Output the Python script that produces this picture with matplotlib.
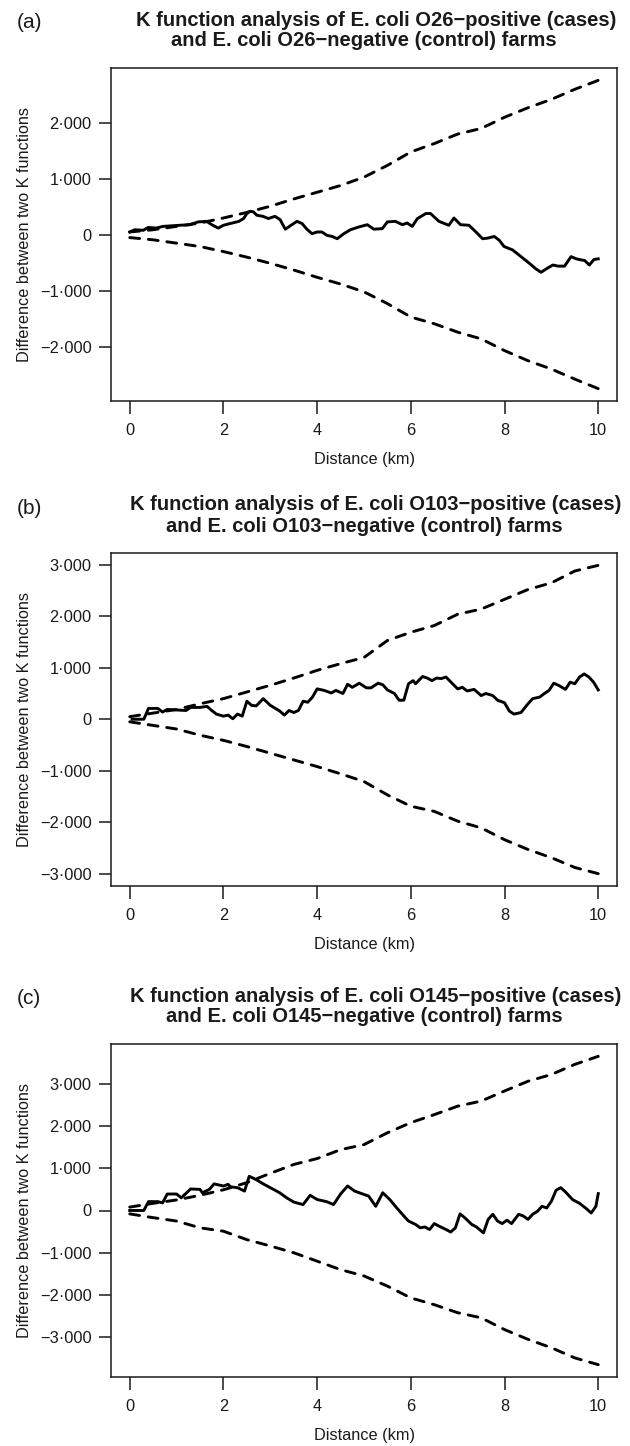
import numpy as np
import matplotlib
matplotlib.use('Agg')
import matplotlib.pyplot as plt

plt.rcParams['font.family'] = ['Liberation Sans', 'DejaVu Sans']

ink = '#1a1a1a'

# envelope grid (km), shared by all three panels
env_x = [0, 0.5, 1, 1.5, 2, 2.5, 3, 3.5, 4, 4.5, 5, 5.5, 6, 6.5, 7, 7.5, 8, 8.5, 9, 9.5, 10]

# (a) O26
a_hi = [0.05, 0.09, 0.15, 0.21, 0.30, 0.40, 0.51, 0.64, 0.76, 0.88, 1.03, 1.24, 1.48, 1.63, 1.80, 1.90, 2.10, 2.27, 2.42, 2.60, 2.76]
a_lo = [-0.05, -0.09, -0.15, -0.21, -0.30, -0.40, -0.51, -0.63, -0.76, -0.88, -1.02, -1.23, -1.47, -1.59, -1.74, -1.86, -2.07, -2.25, -2.40, -2.58, -2.75]
a_x = [0, 0.11, 0.29, 0.39, 0.57, 0.71, 0.89, 1.07, 1.28, 1.46, 1.64, 1.75, 1.89, 2.0, 2.14, 2.33, 2.43, 2.5, 2.57, 2.64,
       2.71, 2.84, 2.96, 3.1, 3.21, 3.32, 3.46, 3.57, 3.68, 3.78, 3.89, 4.0, 4.1, 4.21, 4.32, 4.43, 4.57, 4.71, 4.89, 5.07,
       5.21, 5.39, 5.5, 5.67, 5.82, 5.92, 6.03, 6.14, 6.32, 6.42, 6.6, 6.81, 6.92, 7.06, 7.24, 7.39, 7.53, 7.64, 7.78, 7.89,
       7.99, 8.17, 8.35, 8.53, 8.67, 8.78, 8.89, 9.03, 9.14, 9.28, 9.42, 9.53, 9.64, 9.71, 9.81, 9.91, 10.0]
a_k = [0.05, 0.09, 0.08, 0.13, 0.12, 0.15, 0.16, 0.17, 0.18, 0.23, 0.24, 0.18, 0.12, 0.17, 0.20, 0.24, 0.29, 0.38, 0.42, 0.41,
       0.35, 0.33, 0.29, 0.33, 0.27, 0.10, 0.18, 0.24, 0.20, 0.10, 0.02, 0.05, 0.05, -0.01, -0.03, -0.07, 0.02, 0.09, 0.14, 0.18,
       0.10, 0.11, 0.23, 0.24, 0.18, 0.21, 0.15, 0.29, 0.38, 0.38, 0.24, 0.17, 0.30, 0.18, 0.17, 0.05, -0.07, -0.06, -0.03, -0.10,
       -0.21, -0.27, -0.39, -0.51, -0.61, -0.67, -0.61, -0.54, -0.56, -0.56, -0.39, -0.43, -0.45, -0.46, -0.54, -0.44, -0.43]

# (b) O103
b_hi = [0.05, 0.12, 0.19, 0.30, 0.40, 0.53, 0.66, 0.80, 0.95, 1.08, 1.20, 1.53, 1.69, 1.82, 2.04, 2.14, 2.33, 2.52, 2.65, 2.88, 2.99]
b_lo = [-0.05, -0.12, -0.19, -0.31, -0.41, -0.53, -0.66, -0.79, -0.92, -1.06, -1.21, -1.47, -1.69, -1.79, -1.98, -2.11, -2.34, -2.53, -2.69, -2.88, -3.00]
b_x = [0.05, 0.3, 0.4, 0.6, 0.7, 0.8, 1.2, 1.3, 1.5, 1.65, 1.75, 1.85, 2.0, 2.1, 2.2, 2.3, 2.4, 2.5, 2.6, 2.7,
       2.85, 3.0, 3.2, 3.3, 3.4, 3.5, 3.6, 3.7, 3.8, 3.9, 4.0, 4.15, 4.3, 4.4, 4.55, 4.65, 4.75, 4.9, 5.05, 5.15,
       5.3, 5.4, 5.5, 5.65, 5.75, 5.85, 5.95, 6.05, 6.1, 6.25, 6.35, 6.45, 6.55, 6.65, 6.75, 6.9, 7.0, 7.1, 7.2, 7.35,
       7.5, 7.6, 7.75, 7.85, 8.0, 8.1, 8.2, 8.35, 8.5, 8.6, 8.75, 8.85, 8.95, 9.05, 9.15, 9.3, 9.4, 9.5, 9.6, 9.7,
       9.8, 9.9, 10.0]
b_k = [0.00, 0.00, 0.21, 0.21, 0.14, 0.19, 0.17, 0.23, 0.23, 0.25, 0.17, 0.10, 0.06, 0.08, 0.01, 0.10, 0.06, 0.35, 0.27, 0.26,
       0.40, 0.27, 0.16, 0.08, 0.17, 0.13, 0.17, 0.35, 0.33, 0.43, 0.59, 0.56, 0.51, 0.56, 0.50, 0.68, 0.62, 0.70, 0.61, 0.61,
       0.70, 0.67, 0.57, 0.50, 0.37, 0.37, 0.69, 0.75, 0.69, 0.83, 0.80, 0.75, 0.80, 0.79, 0.82, 0.68, 0.59, 0.62, 0.55, 0.58,
       0.46, 0.50, 0.46, 0.37, 0.32, 0.16, 0.10, 0.13, 0.30, 0.40, 0.43, 0.50, 0.56, 0.70, 0.66, 0.58, 0.72, 0.69, 0.82, 0.88,
       0.82, 0.72, 0.57]

# (c) O145
c_hi = [0.08, 0.17, 0.25, 0.36, 0.49, 0.66, 0.88, 1.09, 1.23, 1.44, 1.56, 1.84, 2.08, 2.27, 2.47, 2.59, 2.83, 3.06, 3.22, 3.46, 3.65]
c_lo = [-0.08, -0.17, -0.25, -0.41, -0.49, -0.69, -0.84, -1.00, -1.20, -1.40, -1.55, -1.79, -2.07, -2.23, -2.42, -2.54, -2.82, -3.05, -3.25, -3.49, -3.65]
c_x = [0, 0.1, 0.3, 0.4, 0.6, 0.7, 0.8, 1.0, 1.1, 1.3, 1.5, 1.55, 1.7, 1.8, 2.0, 2.1, 2.15, 2.3, 2.45, 2.55,
       2.7, 2.85, 3.0, 3.2, 3.35, 3.5, 3.7, 3.85, 4.0, 4.2, 4.35, 4.5, 4.65, 4.8, 4.95, 5.1, 5.25, 5.4, 5.55, 5.7,
       5.85, 5.95, 6.1, 6.2, 6.3, 6.4, 6.5, 6.6, 6.75, 6.85, 6.95, 7.05, 7.15, 7.3, 7.4, 7.55, 7.65, 7.75, 7.85, 7.95,
       8.05, 8.15, 8.3, 8.4, 8.5, 8.6, 8.7, 8.8, 8.9, 9.0, 9.1, 9.2, 9.3, 9.45, 9.6, 9.75, 9.85, 9.95, 10.0]
c_k = [0.00, 0.00, 0.00, 0.21, 0.21, 0.18, 0.39, 0.39, 0.30, 0.51, 0.50, 0.42, 0.50, 0.63, 0.58, 0.62, 0.56, 0.54, 0.46, 0.81,
       0.73, 0.63, 0.54, 0.42, 0.30, 0.20, 0.14, 0.36, 0.26, 0.21, 0.14, 0.39, 0.58, 0.46, 0.40, 0.34, 0.10, 0.42, 0.26, 0.06,
       -0.13, -0.25, -0.33, -0.41, -0.39, -0.45, -0.31, -0.37, -0.45, -0.51, -0.41, -0.08, -0.17, -0.33, -0.39, -0.53, -0.21, -0.09, -0.25, -0.31,
       -0.23, -0.31, -0.09, -0.13, -0.21, -0.09, -0.02, 0.10, 0.06, 0.22, 0.48, 0.54, 0.44, 0.26, 0.17, 0.04, -0.06, 0.10, 0.40]

panels = [
    ('(a)', 'O26', a_x, a_k, a_hi, a_lo, [-2, -1, 0, 1, 2]),
    ('(b)', 'O103', b_x, b_k, b_hi, b_lo, [-3, -2, -1, 0, 1, 2, 3]),
    ('(c)', 'O145', c_x, c_k, c_hi, c_lo, [-3, -2, -1, 0, 1, 2, 3]),
]

# axes boxes in pixels (top, bottom) of a 630x1446 canvas
W, H = 630.0, 1446.0
box_left, box_right = 111, 617
box_rows = [(68, 401), (553, 886), (1044, 1377)]
pt = 72.0 / 100  # pixels -> points at dpi 100


def fmt_tick(v):
    if v == 0:
        return '0'
    s = '%.3f' % abs(v)
    s = s.replace('.', '\u00b7')
    return ('\u2212' if v < 0 else '') + s


fig = plt.figure(figsize=(6.3, 14.46), dpi=100)

for (tag, sero, kx, kv, hi, lo, yt), (top, bot) in zip(panels, box_rows):
    ax = fig.add_axes([box_left / W, (H - bot) / H, (box_right - box_left) / W, (bot - top) / H])

    ax.plot(kx, kv, '-', color='black', lw=2.1, solid_joinstyle='round', zorder=3)
    ax.plot(env_x, hi, color='black', lw=2.1, dashes=(3.4, 3.0), dash_capstyle='round')
    ax.plot(env_x, lo, color='black', lw=2.1, dashes=(3.4, 3.0), dash_capstyle='round')

    # R style 4% padding around the data range
    ymax = max(max(hi), max(kv))
    ymin = min(min(lo), min(kv))
    pad = 0.04 * (ymax - ymin)
    ax.set_ylim(ymin - pad, ymax + pad)
    ax.set_xlim(-0.4, 10.4)

    ax.set_xticks([0, 2, 4, 6, 8, 10])
    ax.set_yticks(yt)
    ax.set_yticklabels([fmt_tick(v) for v in yt])
    ax.tick_params(axis='both', direction='out', length=9, width=1.1, color=ink,
                   labelsize=11.8, labelcolor=ink)
    ax.tick_params(axis='x', pad=7)
    ax.tick_params(axis='y', pad=5)
    for sp in ax.spines.values():
        sp.set_linewidth(1.1)
        sp.set_color(ink)

    ax.set_xlabel('Distance (km)', fontsize=11.7, color=ink, va='center')
    ax.xaxis.set_label_coords(0.5, -0.177)
    ax.set_ylabel('Difference between two K functions', fontsize=11.7, color=ink, va='center')
    ax.yaxis.set_label_coords(-0.170, 0.5)

    # two-line bold title (each line centred on its own), panel tag on the left
    ax.annotate('K function analysis of E. coli %s\u2212positive (cases)' % sero,
                xy=(0.5, 1.0), xycoords='axes fraction', xytext=(12 * pt, 48 * pt), textcoords='offset points',
                ha='center', va='center', fontsize=14.5, fontweight='bold', color=ink)
    ax.annotate('and E. coli %s\u2212negative (control) farms' % sero,
                xy=(0.5, 1.0), xycoords='axes fraction', xytext=(0, 27 * pt), textcoords='offset points',
                ha='center', va='center', fontsize=14.5, fontweight='bold', color=ink)
    fig.text(29 / W, 1 - (top - 45) / H, tag, ha='center', va='center', fontsize=15, color=ink)

plt.savefig('out.png', dpi=100)
